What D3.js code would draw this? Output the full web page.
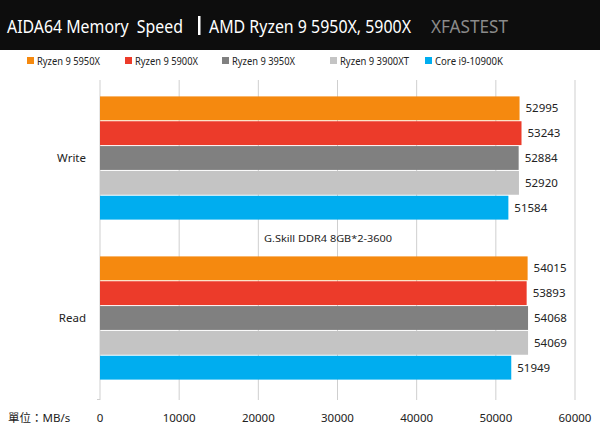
<!DOCTYPE html>
<html><head><meta charset="utf-8">
<script src="https://cdn.jsdelivr.net/npm/d3@7"></script>
<style>body{margin:0;background:#fff}text{font-family:"Noto Sans","Noto Sans CJK TC",sans-serif}</style>
</head><body>
<script>
var categories = ['Write', 'Read'];
var series = ['Ryzen 9 5950X', 'Ryzen 9 5900X', 'Ryzen 9 3950X', 'Ryzen 9 3900XT', 'Core i9-10900K'];
var colors = ['#f5890f', '#ec3b2a', '#808080', '#c4c4c4', '#00adef'];
var writeVals = [52995, 53243, 52884, 52920, 51584];
var readVals = [54015, 53893, 54068, 54069, 51949];
var ticks = [0, 10000, 20000, 30000, 40000, 50000, 60000];

var W = 600, H = 428;
var svg = d3.select('body').append('svg').attr('width', W).attr('height', H);

// header
svg.append('rect').attr('width', W).attr('height', 50).attr('fill', '#0d0d0d');
svg.append('text').attr('x', 7).attr('y', 33).attr('fill', '#fff').attr('font-size', 18)
	.attr('xml:space', 'preserve').attr('textLength', 176).attr('lengthAdjust', 'spacingAndGlyphs').text('AIDA64 Memory  Speed');
svg.append('rect').attr('x', 198).attr('y', 16).attr('width', 2.5).attr('height', 19).attr('fill', '#fff');
svg.append('text').attr('x', 209).attr('y', 33).attr('fill', '#fff').attr('font-size', 18)
	.attr('textLength', 202).attr('lengthAdjust', 'spacingAndGlyphs').text('AMD Ryzen 9 5950X, 5900X');
svg.append('text').attr('x', 431).attr('y', 33).attr('fill', '#8a8a8a').attr('font-size', 18)
	.attr('textLength', 77).attr('lengthAdjust', 'spacingAndGlyphs').text('XFASTEST');

// legend
var legX = [27, 125, 222, 330, 425];
var legW = [63, 63, 63, 69, 68];
series.forEach(function(s, i) {
	svg.append('rect').attr('x', legX[i]).attr('y', 57).attr('width', 7).attr('height', 7).attr('fill', colors[i]);
	svg.append('text').attr('x', legX[i] + 10).attr('y', 64.5).attr('font-size', 10.5).attr('fill', '#222')
		.attr('textLength', legW[i]).attr('lengthAdjust', 'spacingAndGlyphs').text(s);
});

var x = d3.scaleLinear().domain([0, 60000]).range([100, 575]);
var y = d3.scaleBand().domain(categories).range([78, 398]).paddingInner(0.23).paddingOuter(0.115);
var yi = d3.scaleBand().domain(series).range([0, y.bandwidth()]).paddingInner(0.04);

// grid
svg.selectAll('.grid').data(ticks).enter().append('line')
	.attr('x1', x).attr('x2', x).attr('y1', 80).attr('y2', 400)
	.attr('stroke', '#cfcfcf').attr('stroke-width', 1);
svg.append('line').attr('x1', 97).attr('x2', 100).attr('y1', 399.5).attr('y2', 399.5).attr('stroke', '#cfcfcf');

var dataByCat = { Write: writeVals, Read: readVals };
categories.forEach(function(c) {
	var g = svg.append('g').attr('transform', 'translate(0,' + y(c) + ')');
	g.selectAll('rect').data(dataByCat[c]).enter().append('rect')
		.attr('x', x(0)).attr('y', function(d, i) { return yi(series[i]); })
		.attr('width', function(d) { return x(d) - x(0); }).attr('height', yi.bandwidth())
		.attr('fill', function(d, i) { return colors[i]; });
	g.selectAll('.lbl').data(dataByCat[c]).enter().append('text')
		.attr('x', function(d) { return x(d) + 6; })
		.attr('y', function(d, i) { return yi(series[i]) + yi.bandwidth() / 2 + 4; })
		.attr('font-size', 11.5).attr('fill', '#222').text(function(d) { return d; });
	svg.append('text').attr('x', 86).attr('y', y(c) + y.bandwidth() / 2 + 4)
		.attr('text-anchor', 'end').attr('font-size', 11.5).attr('fill', '#222').text(c);
});

svg.append('text').attr('x', 264).attr('y', 242)
	.attr('font-family', 'DejaVu Sans Mono').attr('font-size', 9.5).attr('fill', '#222')
	.attr('textLength', 128).attr('lengthAdjust', 'spacingAndGlyphs').text('G.Skill DDR4 8GB*2-3600');

// x axis labels
svg.selectAll('.tk').data(ticks).enter().append('text')
	.attr('x', x).attr('y', 422).attr('text-anchor', 'middle').attr('font-size', 11.5).attr('fill', '#222')
	.text(function(d) { return d; });
svg.append('text').attr('x', 8).attr('y', 422).attr('font-size', 11.5).attr('fill', '#222').text('單位：MB/s');
</script>
</body></html>
